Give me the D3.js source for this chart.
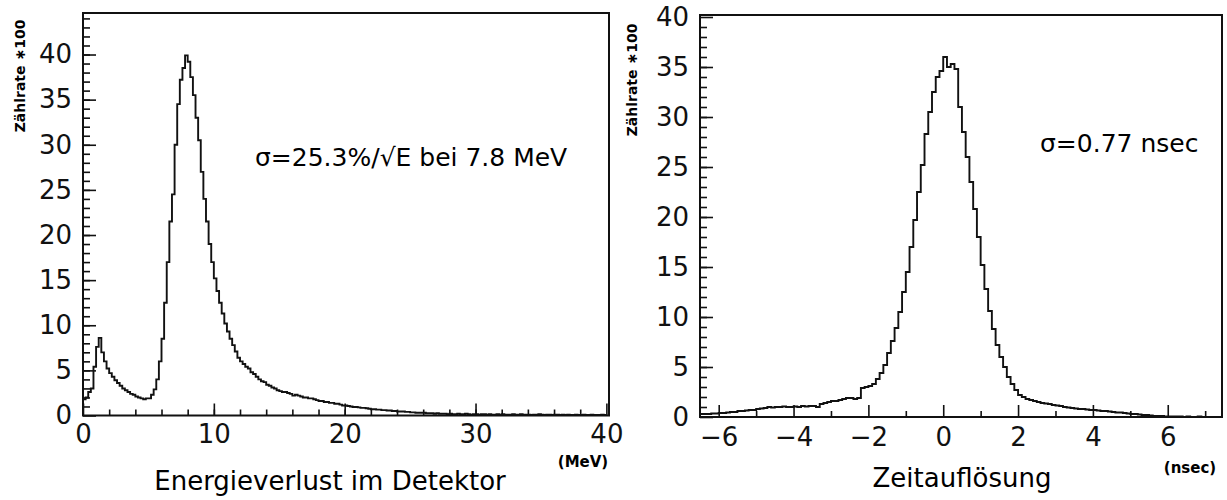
<!DOCTYPE html>
<html>
<head>
<meta charset="utf-8">
<script src="https://d3js.org/d3.v7.min.js"></script>
<style>
  body { margin: 0; background: #fff; }
  svg { display: block; font-family: 'DejaVu Sans', sans-serif; }
  .axis path { display: none; }
  .axis line { stroke: #111; stroke-width: 1.6; }
  .axis text { font-family: 'DejaVu Sans', sans-serif; font-size: 26px; fill: #111; }
</style>
</head>
<body>
<svg></svg>
<script>
'use strict';

// energy loss histogram, bins of 0.2 MeV starting at 0
var energyStart = 0;
var energyStep = 0.2;
var energyCounts = [
  1.8, 2.0, 2.6, 3.0, 5.4, 7.6, 8.6, 7.0, 6.0, 5.2,
  4.7, 4.3, 3.9, 3.6, 3.3, 3.0, 2.8, 2.6, 2.4, 2.3,
  2.1, 2.0, 1.9, 1.8, 1.9, 1.9, 2.3, 2.9, 4.0, 6.0,
  8.5, 12.5, 17.0, 21.5, 24.5, 30.0, 34.5, 37.2, 38.5, 39.9,
  39.2, 37.5, 35.5, 33.0, 30.5, 27.0, 24.0, 21.5, 19.0, 17.0,
  15.2, 13.8, 12.5, 11.3, 10.2, 9.3, 8.5, 7.8, 7.1, 6.4,
  6.0, 5.7, 5.4, 5.2, 4.8, 4.6, 4.3, 4.0, 3.8, 3.7,
  3.4, 3.3, 3.1, 3.0, 2.8, 2.7, 2.6, 2.6, 2.5, 2.4,
  2.2, 2.3, 2.2, 2.1, 2.0, 2.0, 1.9, 1.9, 1.8, 1.7,
  1.6, 1.6, 1.5, 1.5, 1.4, 1.4, 1.3, 1.3, 1.2, 1.1,
  1.1, 1.05, 1.0, 0.95, 0.95, 0.9, 0.85, 0.85, 0.8, 0.75,
  0.7, 0.7, 0.65, 0.65, 0.6, 0.6, 0.55, 0.55, 0.5, 0.5,
  0.45, 0.45, 0.45, 0.4, 0.4, 0.35, 0.35, 0.3, 0.3, 0.3,
  0.3, 0.25, 0.25, 0.25, 0.2, 0.25, 0.2, 0.2, 0.2, 0.15,
  0.2, 0.15, 0.15, 0.2, 0.15, 0.15, 0.2, 0.15, 0.1, 0.15,
  0.15, 0.1, 0.15, 0.15, 0.1, 0.15, 0.1, 0.1, 0.15, 0.1,
  0.15, 0.1, 0.1, 0.1, 0.15, 0.1, 0.1, 0.15, 0.1, 0.1,
  0.1, 0.05, 0.1, 0.1, 0.15, 0.1, 0.05, 0.1, 0.1, 0.05,
  0.1, 0.1, 0.05, 0.1, 0.05, 0.1, 0.05, 0.05, 0.1, 0.05,
  0.05, 0.1, 0.05, 0.05, 0.1, 0.05, 0.05, 0.05, 0.1, 0.05
];

// time resolution histogram, bins of 0.1 nsec starting at -6.5
var timeStart = -6.5;
var timeStep = 0.1;
var timeCounts = [
  0.3, 0.3, 0.3, 0.35, 0.35,
  0.4, 0.4, 0.45, 0.5, 0.5,
  0.6, 0.6, 0.65, 0.7, 0.7,
  0.8, 0.85, 0.9, 1.0, 0.95,
  1.0, 1.0, 1.05, 1.0, 1.0,
  1.05, 1.0, 1.1, 1.05, 1.1,
  1.1, 1.0, 1.3, 1.4, 1.5,
  1.6, 1.6, 1.7, 1.8, 1.9,
  1.9, 1.8, 1.9, 2.9, 3.0,
  3.1, 3.3, 3.8, 4.4, 5.2,
  6.4, 7.6, 8.9, 10.5, 12.5,
  14.5, 17.0, 19.7, 22.5, 25.2,
  28.3, 30.5, 32.5, 34.0, 34.6,
  36.0, 35.0, 35.3, 34.8, 31.0,
  28.5, 26.0, 23.5, 20.8, 18.0,
  15.2, 12.8, 10.6, 8.8, 7.2,
  6.0, 5.0, 4.0, 3.3, 2.7,
  2.2, 2.0, 1.8, 1.7, 1.6,
  1.5, 1.4, 1.35, 1.3, 1.2,
  1.15, 1.1, 1.0, 0.95, 0.9,
  0.85, 0.8, 0.8, 0.75, 0.7,
  0.7, 0.65, 0.6, 0.6, 0.55,
  0.5, 0.45, 0.45, 0.4, 0.35,
  0.3, 0.3, 0.25, 0.2, 0.2,
  0.15, 0.1, 0.1, 0.1, 0.05,
  0.05, 0.05, 0.05, 0.05, 0.0,
  0.05, 0.0, 0.0, 0.05, 0.0,
  0.0, 0.0, 0.0, 0.0, 0.0
];

// tick values
var energyMajor = [0, 10, 20, 30, 40];
var energyMinor = d3.range(2, 40, 2);
var timeMajor = [-6, -4, -2, 0, 2, 4, 6];
var timeMinor = [-5, -3, -1, 1, 3, 5, 7];
var countMajorLeft = [0, 5, 10, 15, 20, 25, 30, 35, 40];
var countMinorLeft = d3.range(1, 45, 1);
var countMajorRight = [0, 5, 10, 15, 20, 25, 30, 35, 40];
var countMinorRight = d3.range(1, 40, 1);

var svg = d3.select('svg')
  .attr('width', 1227)
  .attr('height', 500);

function drawPanel(p) {
  var x = d3.scaleLinear().domain(p.xDomain).range(p.xRange);
  var y = d3.scaleLinear().domain(p.yDomain).range(p.yRange);
  var g = svg.append('g');

  // frame
  g.append('rect')
    .attr('x', p.xRange[0])
    .attr('y', p.yRange[1])
    .attr('width', p.xRange[1] - p.xRange[0])
    .attr('height', p.yRange[0] - p.yRange[1])
    .attr('fill', 'none')
    .attr('stroke', '#111')
    .attr('stroke-width', 2);

  // x axis, ticks pointing into the plot
  g.append('g')
    .attr('class', 'axis')
    .attr('transform', 'translate(0,' + p.yRange[0] + ')')
    .call(d3.axisBottom(x).tickValues(p.xMajor).tickSize(-12).tickSizeOuter(0).tickPadding(p.xPad));
  g.append('g')
    .attr('class', 'axis')
    .attr('transform', 'translate(0,' + p.yRange[0] + ')')
    .call(d3.axisBottom(x).tickValues(p.xMinor).tickSize(-6).tickSizeOuter(0).tickFormat(''));

  // y axis
  g.append('g')
    .attr('class', 'axis')
    .attr('transform', 'translate(' + p.xRange[0] + ',0)')
    .call(d3.axisLeft(y).tickValues(p.yMajor).tickSize(-13).tickSizeOuter(0).tickPadding(11));
  g.append('g')
    .attr('class', 'axis')
    .attr('transform', 'translate(' + p.xRange[0] + ',0)')
    .call(d3.axisLeft(y).tickValues(p.yMinor).tickSize(-7).tickSizeOuter(0).tickFormat(''));

  // histogram as steps
  var pts = p.counts.map(function(c, i) { return [p.start + i * p.step, c]; });
  pts.push([p.start + p.counts.length * p.step, p.counts[p.counts.length - 1]]);
  var line = d3.line()
    .curve(d3.curveStepAfter)
    .x(function(d) { return x(Math.min(d[0], p.xDomain[1])); })
    .y(function(d) { return y(d[1]); });
  g.append('path')
    .datum(pts)
    .attr('d', line)
    .attr('fill', 'none')
    .attr('stroke', '#111')
    .attr('stroke-width', 1.9);

  // titles
  g.append('text')
    .attr('transform', 'translate(' + p.yLabelX + ',' + p.yLabelY + ') rotate(-90)')
    .attr('text-anchor', 'middle')
    .style('font-size', '14px')
    .style('font-weight', 'bold')
    .text('Zählrate ∗100');
  g.append('text')
    .attr('x', p.titleX)
    .attr('y', p.titleY)
    .attr('text-anchor', 'middle')
    .style('font-size', '26px')
    .text(p.title);
  g.append('text')
    .attr('x', p.unitX)
    .attr('y', p.unitY)
    .attr('text-anchor', 'middle')
    .style('font-size', '15px')
    .style('font-weight', 'bold')
    .text(p.unit);
  g.append('text')
    .attr('x', p.noteX)
    .attr('y', p.noteY)
    .style('font-size', '25px')
    .text(p.note);
}

drawPanel({
  xDomain: [0, 40.2], xRange: [83, 609],
  yDomain: [0, 44.6], yRange: [415.5, 13],
  xMajor: energyMajor, xMinor: energyMinor, xPad: 9,
  yMajor: countMajorLeft, yMinor: countMinorLeft,
  counts: energyCounts, start: energyStart, step: energyStep,
  yLabelX: 25, yLabelY: 76,
  title: 'Energieverlust im Detektor', titleX: 330, titleY: 490,
  unit: '(MeV)', unitX: 583, unitY: 467,
  note: 'σ=25.3%/√E bei 7.8 MeV', noteX: 255, noteY: 166
});

drawPanel({
  xDomain: [-6.5, 7.45], xRange: [700, 1222],
  yDomain: [0, 40.2], yRange: [417, 15],
  xMajor: timeMajor, xMinor: timeMinor, xPad: 11,
  yMajor: countMajorRight, yMinor: countMinorRight,
  counts: timeCounts, start: timeStart, step: timeStep,
  yLabelX: 637, yLabelY: 80,
  title: 'Zeitauflösung', titleX: 962, titleY: 487,
  unit: '(nsec)', unitX: 1190, unitY: 473,
  note: 'σ=0.77 nsec', noteX: 1040, noteY: 152
});
</script>
</body>
</html>
